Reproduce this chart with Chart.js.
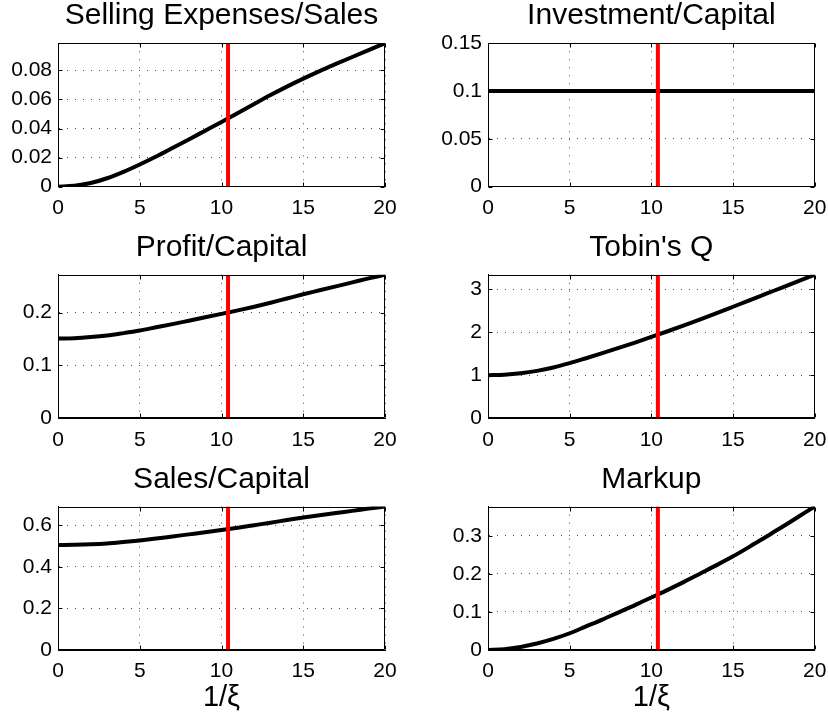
<!DOCTYPE html>
<html><head><meta charset="utf-8">
<script src="https://cdn.jsdelivr.net/npm/chart.js@4/dist/chart.umd.min.js"></script>
<style>
html,body{margin:0;padding:0;background:#fff;width:828px;height:719px;overflow:hidden;position:relative}
canvas{position:absolute}
</style>
</head><body>
<canvas id="c0"></canvas><canvas id="c1"></canvas><canvas id="c2"></canvas>
<canvas id="c3"></canvas><canvas id="c4"></canvas><canvas id="c5"></canvas>
<script>
// ---- data ----
const xValues = [0,1,2,3,4,5,6,7,8,9,10,11,12,13,14,15,16,17,18,19,20];
const sellingExpensesSales = [0,0.0006,0.0025,0.0058,0.0102,0.0153,0.0208,0.0266,0.0325,0.0385,0.0445,0.0507,0.0569,0.063,0.0688,0.0743,0.0795,0.0844,0.0892,0.0939,0.0986];
const investmentCapital = [0.1,0.1,0.1,0.1,0.1,0.1,0.1,0.1,0.1,0.1,0.1,0.1,0.1,0.1,0.1,0.1,0.1,0.1,0.1,0.1,0.1];
const profitCapital = [0.151,0.1515,0.1535,0.1565,0.161,0.166,0.172,0.178,0.1845,0.191,0.1975,0.204,0.211,0.2185,0.2265,0.2345,0.242,0.2495,0.257,0.2645,0.2715];
const tobinsQ = [1.0,1.011,1.045,1.101,1.179,1.28,1.395,1.513,1.634,1.759,1.888,2.021,2.158,2.299,2.443,2.59,2.738,2.887,3.036,3.185,3.334];
const salesCapital = [0.505,0.506,0.508,0.512,0.519,0.527,0.536,0.546,0.556,0.566,0.577,0.588,0.6,0.612,0.625,0.637,0.648,0.659,0.669,0.68,0.69];
const markup = [0,0.002,0.008,0.017,0.029,0.044,0.062,0.08,0.099,0.118,0.138,0.158,0.179,0.201,0.223,0.246,0.271,0.297,0.323,0.35,0.377];
const panelTitles = ['Selling Expenses/Sales','Investment/Capital','Profit/Capital',"Tobin's Q",'Sales/Capital','Markup'];
const panelSeries = [sellingExpensesSales, investmentCapital, profitCapital, tobinsQ, salesCapital, markup];
const yMaxValues = [0.0986, 0.15, 0.2715, 3.334, 0.69, 0.377];
const yStepValues = [0.02, 0.05, 0.1, 1, 0.2, 0.1];
const xMin = 0, xMax = 20, xStep = 5;
const markerX = 10.4;
const xAxisLabel = '1/\u03BE';

// ---- layout (positions only) ----
const FONT = "'Liberation Sans', Arial, Helvetica, sans-serif";
Chart.defaults.font.family = FONT;
Chart.defaults.color = '#000';
const cols = [
  {left:0, yW:58, plotW:327},
  {left:414, yW:74, plotW:326.7}
];
const rows = [
  {top:-5, height:222, tPadTop:5.65, tPadBot:12.65, xH:30.3, xTitle:false},
  {top:227, height:222, tPadTop:6.1, tPadBot:11.6, xH:30.7, xTitle:false},
  {top:459, height:260, tPadTop:5.8, tPadBot:11.7, xH:69, xTitle:true}
];

const boxPlugin = {
  id: 'box',
  afterDatasetsDraw(chart) {
    const {ctx, chartArea: a, scales: {x, y}} = chart;
    const L = Math.round(a.left) + 0.5, R = Math.round(a.right) - 0.5;
    const T = Math.round(a.top) + 0.5, B = Math.round(a.bottom) - 0.5;
    ctx.save();
    ctx.strokeStyle = '#000';
    ctx.lineWidth = 1;
    ctx.beginPath();
    ctx.rect(L, T, R - L, B - T);
    const tl = 4;
    x.ticks.forEach(t => {
      const p = Math.round(x.getPixelForValue(t.value)) + 0.5;
      ctx.moveTo(p, B); ctx.lineTo(p, B - tl);
      ctx.moveTo(p, T); ctx.lineTo(p, T + tl);
    });
    y.ticks.forEach(t => {
      const p = Math.round(y.getPixelForValue(t.value)) + 0.5;
      ctx.moveTo(L, p); ctx.lineTo(L + tl, p);
      ctx.moveTo(R, p); ctx.lineTo(R - tl, p);
    });
    ctx.stroke();
    ctx.restore();
  }
};

const fmt = v => String(parseFloat(Number(v).toFixed(4)));

panelSeries.forEach((series, i) => {
  const col = cols[i % 2], row = rows[Math.floor(i / 2)];
  const W = Math.ceil(col.yW * 2 + col.plotW);
  const cv = document.getElementById('c' + i);
  cv.width = W; cv.height = row.height;
  cv.style.left = col.left + 'px'; cv.style.top = row.top + 'px';
  cv.style.width = W + 'px'; cv.style.height = row.height + 'px';
  const yMax = yMaxValues[i];
  new Chart(cv, {
    type: 'line',
    data: {
      datasets: [
        {
          data: [{x: markerX, y: 0}, {x: markerX, y: yMax}],
          borderColor: '#ff0000', borderWidth: 4, pointRadius: 0, order: 0
        },
        {
          data: xValues.map((xv, k) => ({x: xv, y: series[k]})),
          borderColor: '#000', borderWidth: 4, pointRadius: 0,
          cubicInterpolationMode: 'monotone', order: 1
        }
      ]
    },
    options: {
      responsive: false, animation: false, devicePixelRatio: 1,
      layout: {padding: {left: 0, right: W - col.yW * 2 - col.plotW, top: 0, bottom: 0}},
      plugins: {
        legend: {display: false}, tooltip: {enabled: false},
        title: {
          display: true, text: panelTitles[i], color: '#000',
          font: {size: 30, weight: 'normal', lineHeight: 1, family: FONT},
          padding: {top: row.tPadTop, bottom: row.tPadBot}
        }
      },
      scales: {
        x: {
          type: 'linear', min: xMin, max: xMax,
          afterFit: s => { s.height = row.xH; },
          ticks: {stepSize: xStep, padding: 9, font: {size: 21, lineHeight: 1.2}, color: '#000', maxRotation: 0, callback: fmt},
          grid: {color: 'rgba(0,0,0,0.7)', drawTicks: false, lineWidth: 1},
          border: {display: true, color: '#000', width: 1, dash: [1, 7]},
          title: {display: row.xTitle, text: xAxisLabel, color: '#000',
                  font: {size: 29, lineHeight: 1, family: FONT}, padding: {top: 0, bottom: 7}}
        },
        y: {
          type: 'linear', min: 0, max: yMax, position: 'left',
          afterFit: s => { s.width = col.yW; },
          ticks: {stepSize: yStepValues[i], includeBounds: false, padding: 6, font: {size: 21}, color: '#000', callback: fmt},
          grid: {color: 'rgba(0,0,0,0.7)', drawTicks: false, lineWidth: 1},
          border: {display: true, color: '#000', width: 1, dash: [1, 7]}
        },
        yPad: {
          type: 'linear', position: 'right', display: true,
          afterFit: s => { s.width = col.yW; },
          ticks: {display: false},
          grid: {display: false, drawOnChartArea: false, drawTicks: false},
          border: {display: false}
        }
      }
    },
    plugins: [boxPlugin]
  });
});
</script>
</body></html>
